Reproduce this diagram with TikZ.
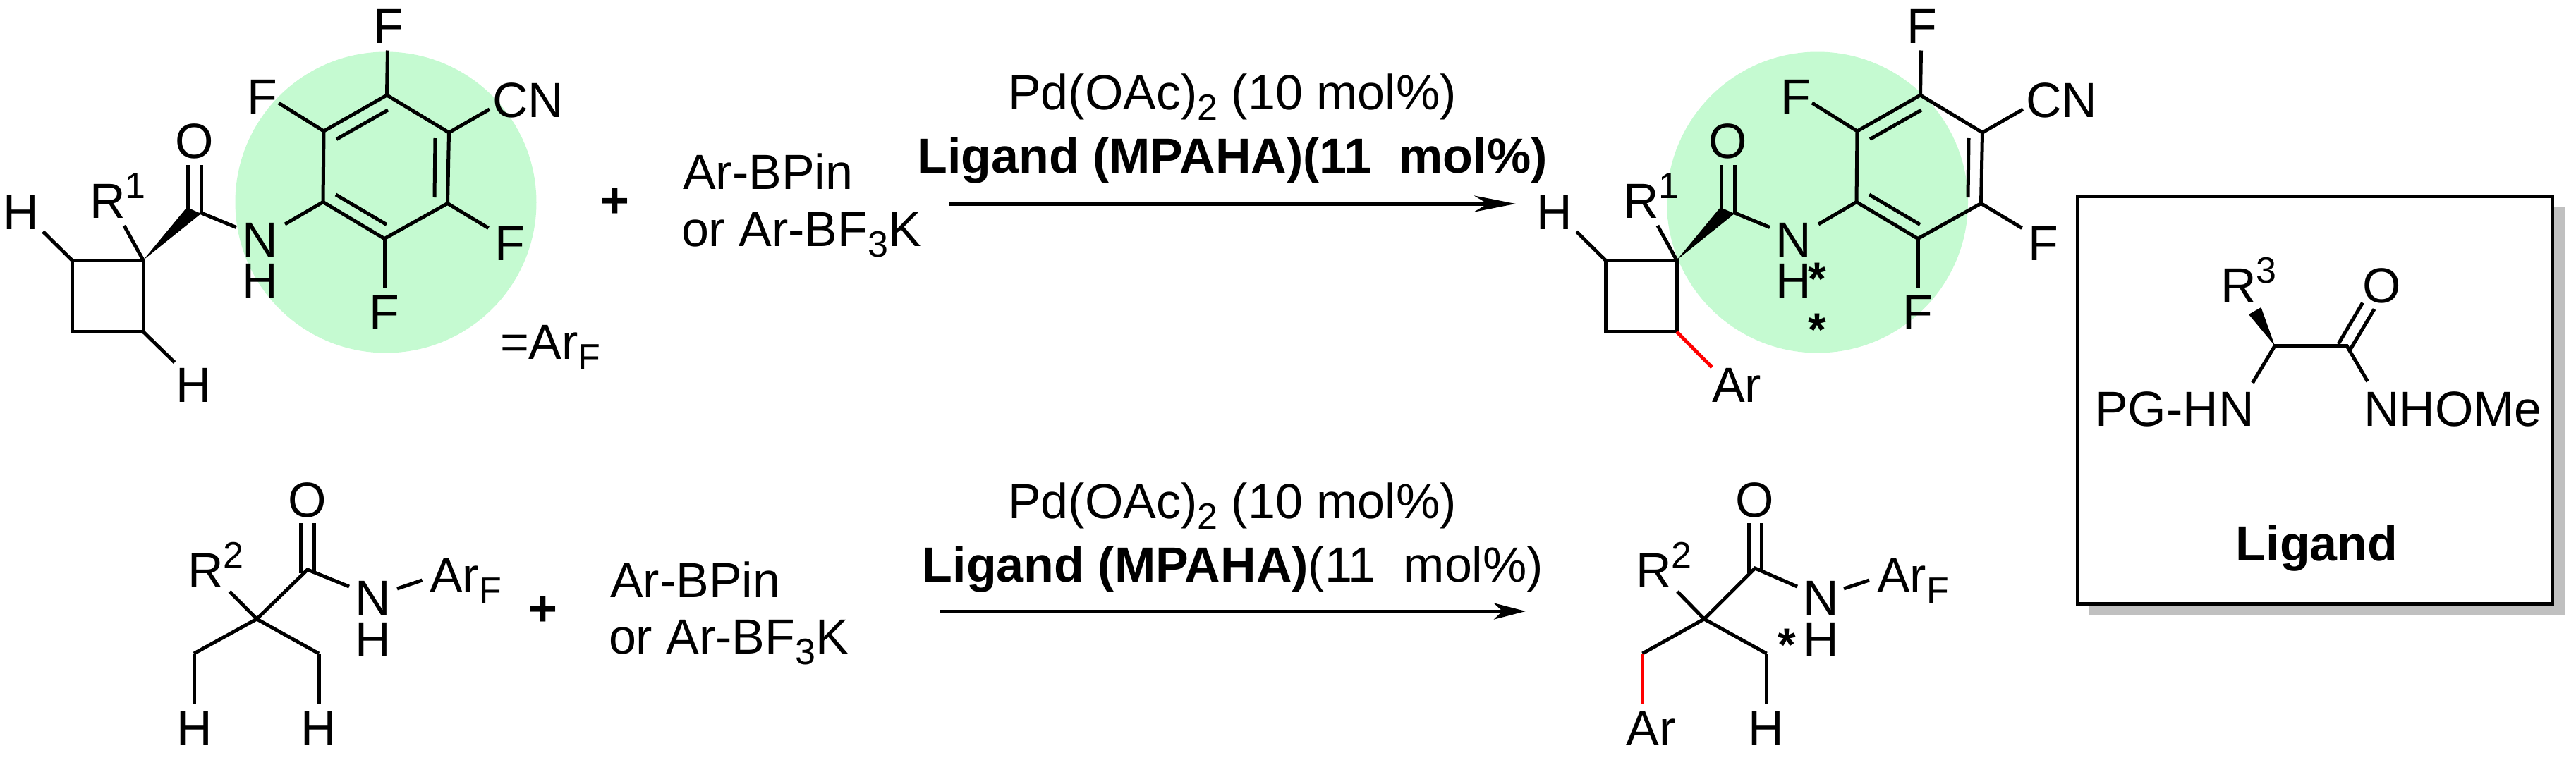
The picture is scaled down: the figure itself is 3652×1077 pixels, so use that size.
\documentclass[tikz,border=0pt]{standalone}
\usepackage{fontspec}
\setmainfont{Liberation Sans}
\usetikzlibrary{arrows.meta}
\definecolor{mint}{RGB}{197,250,209}
\definecolor{boxshade}{RGB}{192,192,192}
\newcommand{\chsub}[1]{\raisebox{-15pt}{\fontsize{52}{52}\selectfont #1}}
\newcommand{\chsup}[1]{\raisebox{28pt}{\fontsize{52}{52}\selectfont #1}}
\tikzset{
	atom/.style={inner sep=0pt, outer sep=0pt, anchor=base, font=\fontsize{70}{70}\selectfont},
	group/.style={atom, anchor=base west},
	asterisk/.style={inner sep=0pt, font=\fontsize{66}{66}\selectfont\bfseries},
	bond/.style={line width=5pt, line join=miter},
	newbond/.style={bond, color=red},
	wedge/.style={fill=black, draw=none}
}
% aryl amide on the cyclobutane, drawn twice
\def\arylamide{
	\coordinate (tl) at (102, 369);
	\coordinate (tr) at (203, 369);
	\coordinate (br) at (203, 470.5);
	\coordinate (bl) at (102, 470.5);
	\coordinate (co) at (283, 301);
	\coordinate (r1) at (459, 186);
	\coordinate (r2) at (548.5, 135);
	\coordinate (r3) at (636.5, 188);
	\coordinate (r4) at (634.5, 288.5);
	\coordinate (r5) at (545, 338.5);
	\coordinate (r6) at (458, 286.5);
	\draw[bond] (tl) -- (tr) -- (br) -- (bl) -- cycle;
	\fill[wedge] (tr) -- (265, 294) -- (285, 303) -- cycle;
	\draw[bond] (r1) -- (r2) -- (r3) -- (r4) -- (r5) -- (r6) -- cycle;
	\draw[bond] (477, 197.5) -- (550, 156);
	\draw[bond] (617, 196) -- (616, 280);
	\draw[bond] (476, 276) -- (548, 318.5);
	\draw[bond] (266.5, 234) -- (266.5, 296);
	\draw[bond] (285, 234) -- (285, 302);
	\draw[bond] (co) -- (335, 322.5);
	\draw[bond] (r6) -- (404, 318);
	\draw[bond] (r1) -- (395, 146);
	\draw[bond] (r2) -- (549.5, 71.5);
	\draw[bond] (r3) -- (694, 155);
	\draw[bond] (r4) -- (692.5, 323.5);
	\draw[bond] (r5) -- (545, 409);
	\draw[bond] (tl) -- (61, 328.5);
	\draw[bond] (tr) -- (176, 320);
	\node[atom] (oxy) at (276, 224) {O};
	\node[atom] (nit) at (369, 364) {N};
	\node[atom] (nh) at (369, 422) {H};
	\node[atom] (f1) at (372, 161) {F};
	\node[atom] (f2) at (551, 61) {F};
	\node[atom] (f3) at (723, 369) {F};
	\node[atom] (f4) at (545, 467) {F};
	\node[group] (cn) at (698, 166) {CN};
	\node[atom] (h1) at (30, 325) {H};
	\node[group] (ra) at (127, 309) {R\chsup{1}};
}

\begin{document}
\begin{tikzpicture}[x=1pt, y=-1pt]
		%%%%% START %%%%%
		\useasboundingbox (0, 0) rectangle (3652, 1077);
		
		% first substrate
		\fill[mint] (547, 287) circle (213.5);
		\begin{scope}[name prefix=sm-]
			\arylamide
			\draw[bond] (br) -- (247.5, 514);
			\node[atom] (h2) at (275, 570) {H};
			\node[group] (arf) at (709, 509) {=Ar\chsub{F}};
		\end{scope}
		\node[atom] (plusa) at (872, 308) {\bfseries +};
		\node[group] (bpina) at (968, 268) {Ar-BPin};
		\node[group] (bfa) at (966, 349) {or Ar-BF\chsub{3}K};
		
		% first arrow
		\coordinate (arrowastart) at (1345, 289);
		\coordinate (arrowaend) at (2149, 289);
		\draw[line width=6pt, -{Stealth[length=59pt, width=23pt, inset=19pt]}] (arrowastart) -- (arrowaend);
		\node[atom] (pda) at (1747, 155) {Pd(OAc)\chsub{2} (10 mol\%)};
		\node[atom] (liga) at (1747, 245) {\bfseries Ligand (MPAHA)(11\ \ mol\%)};
		
		% first product
		\fill[mint] (2576.5, 287) circle (213.5);
		\begin{scope}[shift={(2174, 0)}, name prefix=pa-]
			\arylamide
			\draw[newbond] (br) -- (253, 521);
		\end{scope}
		\node[group] (ara) at (2427, 570) {Ar};
		\node[asterisk] (stara) at (2576, 396) {*};
		\node[asterisk] (starb) at (2576, 468) {*};
		
		% second substrate
		\coordinate (qa) at (364, 878);
		\coordinate (ca) at (436, 808);
		\coordinate (la) at (275, 927);
		\coordinate (ra) at (452, 927);
		\draw[bond] (la) -- (qa) -- (ra);
		\draw[bond] (qa) -- (ca) -- (495, 832);
		\draw[bond] (qa) -- (325.5, 839);
		\draw[bond] (426, 742) -- (426, 813);
		\draw[bond] (445.5, 742) -- (445.5, 813);
		\draw[bond] (la) -- (275, 999);
		\draw[bond] (ra) -- (452, 999);
		\draw[bond] (563, 835) -- (598.5, 823);
		\node[atom] (oa) at (436, 733) {O};
		\node[group] (rb) at (266, 833) {R\chsup{2}};
		\node[atom] (na) at (529, 872) {N};
		\node[atom] (nha) at (529, 931) {H};
		\node[group] (arfa) at (609, 840) {Ar\chsub{F}};
		\node[atom] (ha) at (275.5, 1057) {H};
		\node[atom] (hb) at (452, 1057) {H};
		\node[atom] (plusb) at (770, 887) {\bfseries +};
		\node[group] (bpinb) at (865, 847) {Ar-BPin};
		\node[group] (bfb) at (863, 927) {or Ar-BF\chsub{3}K};
		
		% second arrow
		\coordinate (arrowbstart) at (1333, 867);
		\coordinate (arrowbend) at (2163, 867);
		\draw[line width=5pt, -{Stealth[length=45pt, width=23pt, inset=12pt]}] (arrowbstart) -- (arrowbend);
		\node[atom] (pdb) at (1747, 735) {Pd(OAc)\chsub{2} (10 mol\%)};
		\node[atom] (ligb) at (1748, 825) {\textbf{Ligand (MPAHA)}(11\ \ mol\%)};
		
		% second product
		\coordinate (qb) at (2416, 878);
		\coordinate (cb) at (2488, 806);
		\coordinate (lb) at (2328.5, 927);
		\coordinate (rc) at (2504.5, 927);
		\draw[bond] (lb) -- (qb) -- (rc);
		\draw[bond] (qb) -- (cb) -- (2548, 832);
		\draw[bond] (qb) -- (2378, 839);
		\draw[bond] (2479.5, 742) -- (2479.5, 813);
		\draw[bond] (2497.5, 742) -- (2497.5, 808);
		\draw[newbond] (lb) -- (2328.5, 999);
		\draw[bond] (rc) -- (2504.5, 999);
		\draw[bond] (2614, 835) -- (2650, 823);
		\node[atom] (ob) at (2488, 733) {O};
		\node[group] (rd) at (2319, 833) {R\chsup{2}};
		\node[atom] (nb) at (2582, 872) {N};
		\node[atom] (nhb) at (2582, 931) {H};
		\node[group] (arfb) at (2661, 840) {Ar\chsub{F}};
		\node[atom] (arb) at (2340.5, 1057) {Ar};
		\node[atom] (hc) at (2503.5, 1057) {H};
		\node[asterisk] (starc) at (2533, 915) {*};
		
		% ligand box
		\fill[boxshade] (2961, 293) rectangle (3636, 873);
		\draw[line width=5pt, fill=white] (2945.5, 278.5) rectangle (3618.5, 856.5);
		\coordinate (ag) at (3225, 490.5);
		\coordinate (cg) at (3327, 490.5);
		\fill[wedge] (ag) -- (3188, 446) -- (3205.5, 436) -- cycle;
		\draw[bond] (3193.5, 543) -- (ag) -- (cg) -- (3356.5, 541);
		\draw[bond] (3315, 488) -- (3349.5, 429.5);
		\draw[bond] (3331.5, 496.5) -- (3366, 438.5);
		\node[group] (rg) at (3148, 429) {R\chsup{3}};
		\node[atom] (og) at (3376.5, 429) {O};
		\node[group] (pg) at (2970, 604) {PG-HN};
		\node[group] (nhome) at (3351, 604) {NHOMe};
		\node[atom] (ligc) at (3284.5, 795) {\bfseries Ligand};
		
		%%%%% END %%%%%
	\end{tikzpicture}
\end{document}
